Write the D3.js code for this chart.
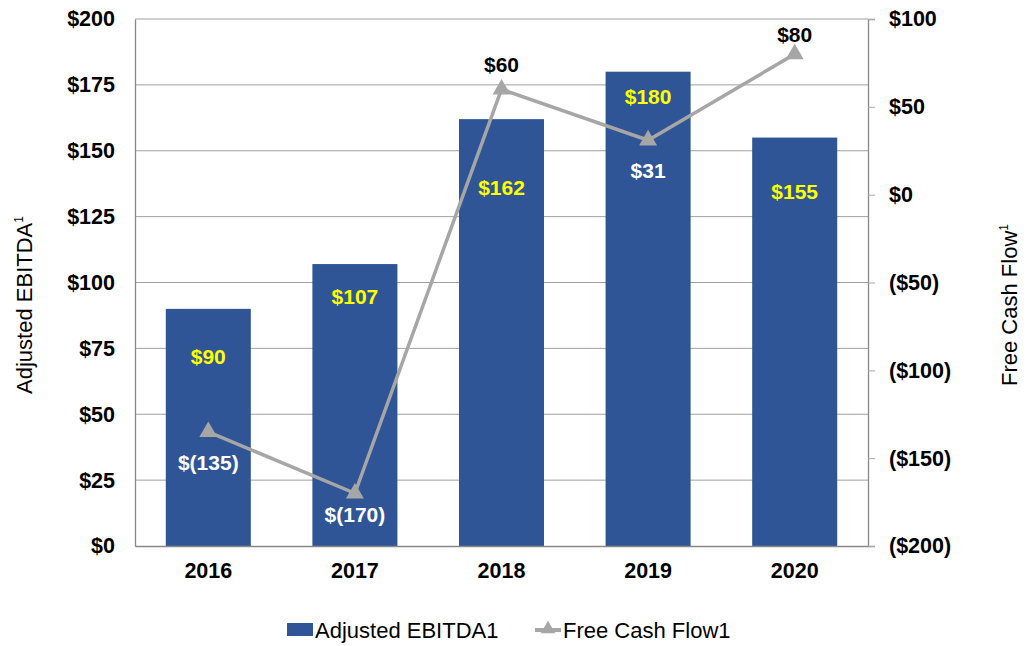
<!DOCTYPE html>
<html><head><meta charset="utf-8">
<script src="https://cdn.jsdelivr.net/npm/d3@7/dist/d3.min.js"></script>
<style>body{margin:0;background:#fff}text{font-family:"Liberation Sans",Arial,sans-serif}</style>
</head><body><svg id="c" width="1028" height="646"></svg>
<script>
const years = ["2016","2017","2018","2019","2020"];
const ebitda = [90, 107, 162, 180, 155];
const fcf = [-135, -170, 60, 31, 80];
const leftTicks = [0,25,50,75,100,125,150,175,200];
const rightTicks = [-200,-150,-100,-50,0,50,100];
const ebitdaLabelDy = [50, 34, 70, 27, 56];
const fcfLabelDy = [33, 23, -23, 32, -18];
const fcfLabelColor = ["#fff","#fff","#000","#fff","#000"];

const svg = d3.select("#c");
const L=135, R=868, T=19, B=546;
const x = d3.scaleBand().domain(years).range([L,R]).paddingInner(0.42).paddingOuter(0.21);
const yL = d3.scaleLinear().domain([0,200]).range([B,T]);
const yR = d3.scaleLinear().domain([-200,100]).range([B,T]);

svg.append("g").selectAll("line").data(leftTicks.filter(d=>d>0)).join("line")
  .attr("x1",L).attr("x2",R).attr("y1",d=>yL(d)).attr("y2",d=>yL(d))
  .attr("stroke","#a0a0a0").attr("stroke-width",1);

svg.append("g").selectAll("rect").data(ebitda).join("rect")
  .attr("x",(d,i)=>x(years[i])).attr("width",x.bandwidth())
  .attr("y",d=>yL(d)).attr("height",d=>B-yL(d)).attr("fill","#2F5597");

const gl = svg.append("g").attr("transform",`translate(${L},0)`)
  .call(d3.axisLeft(yL).tickValues(leftTicks).tickSize(0).tickPadding(20).tickFormat(d=>"$"+d));
const gr = svg.append("g").attr("transform",`translate(${R},0)`)
  .call(d3.axisRight(yR).tickValues(rightTicks).tickSize(7).tickPadding(14).tickFormat(d=>d<0?"($"+(-d)+")":"$"+d));
const gb = svg.append("g").attr("transform",`translate(0,${B})`)
  .call(d3.axisBottom(x).tickSize(0).tickPadding(18));
[gl,gr,gb].forEach(g=>{
  g.select(".domain").attr("stroke","#888").attr("stroke-width",1.3);
  g.selectAll(".tick line").attr("stroke","#aaa");
  g.selectAll("text").attr("font-size",21.5).attr("font-weight","bold").attr("fill","#000")
   .style("font-family","'Liberation Sans',Arial,sans-serif");
});
gb.selectAll("text").attr("dy","0.65em");

svg.append("g").selectAll("text").data(ebitda).join("text")
  .attr("x",(d,i)=>x(years[i])+x.bandwidth()/2).attr("y",(d,i)=>yL(d)+ebitdaLabelDy[i])
  .attr("text-anchor","middle").attr("dominant-baseline","middle")
  .attr("font-size",21).attr("font-weight","bold").attr("fill","#FFFF00")
  .text(d=>"$"+d);

const cx = (i)=>x(years[i])+x.bandwidth()/2;
svg.append("path").datum(fcf)
  .attr("d",d3.line().x((d,i)=>cx(i)).y(d=>yR(d)))
  .attr("fill","none").attr("stroke","#A6A6A6").attr("stroke-width",3.5);
const tri = d3.symbol().type(d3.symbolTriangle).size(140);
svg.append("g").selectAll("path").data(fcf).join("path")
  .attr("d",tri).attr("transform",(d,i)=>`translate(${cx(i)},${yR(d)})`).attr("fill","#A6A6A6");
svg.append("g").selectAll("text").data(fcf).join("text")
  .attr("x",(d,i)=>cx(i)).attr("y",(d,i)=>yR(d)+fcfLabelDy[i])
  .attr("text-anchor","middle").attr("dominant-baseline","middle")
  .attr("font-size",21).attr("font-weight","bold").attr("fill",(d,i)=>fcfLabelColor[i])
  .text(d=>d<0?"$("+(-d)+")":"$"+d);

const t1 = svg.append("text").attr("transform",`translate(32,305) rotate(-90)`)
  .attr("text-anchor","middle").attr("font-size",22).attr("fill","#000");
t1.append("tspan").text("Adjusted EBITDA");
t1.append("tspan").attr("font-size",12).attr("dy",-9).text("1");
const t2 = svg.append("text").attr("transform",`translate(1017,305) rotate(-90)`)
  .attr("text-anchor","middle").attr("font-size",22).attr("fill","#000");
t2.append("tspan").text("Free Cash Flow");
t2.append("tspan").attr("font-size",12).attr("dy",-9).text("1");

const lg = svg.append("g");
lg.append("rect").attr("x",287).attr("y",623).attr("width",26).attr("height",13).attr("fill","#2F5597");
lg.append("text").attr("x",315).attr("y",638).attr("font-size",22).attr("fill","#000").text("Adjusted EBITDA1");
lg.append("line").attr("x1",535).attr("x2",561).attr("y1",630).attr("y2",630).attr("stroke","#A6A6A6").attr("stroke-width",4);
lg.append("path").attr("d",d3.symbol().type(d3.symbolTriangle).size(90)).attr("transform","translate(548,629)").attr("fill","#A6A6A6");
lg.append("text").attr("x",563).attr("y",638).attr("font-size",22).attr("fill","#000").text("Free Cash Flow1");
</script></body></html>
